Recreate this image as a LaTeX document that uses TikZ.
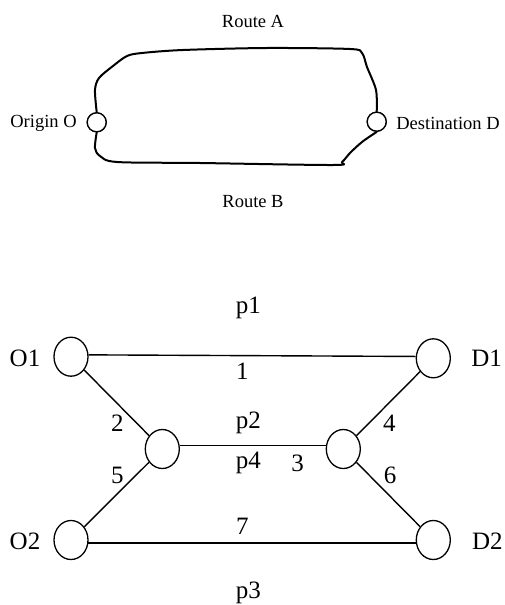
\documentclass[tikz,border=0pt]{standalone}
\usepackage{fontspec}
\setmainfont{Liberation Serif}
\usetikzlibrary{shapes.geometric}
\begin{document}
\begin{tikzpicture}[x=1pt,y=-1pt,
  smalltxt/.style={font=\fontsize{18.5}{22}\selectfont, inner sep=0pt},
  bigtxt/.style={font=\fontsize{25}{30}\selectfont, inner sep=0pt},
  port/.style={circle, draw, line width=1.3pt, fill=white, minimum size=19pt, inner sep=0pt},
  junction/.style={ellipse, draw, line width=1.3pt, fill=white, minimum width=34pt, minimum height=39pt, inner sep=0pt},
  road/.style={line width=2pt, line join=round, line cap=round},
  link/.style={line width=1.4pt}]
\useasboundingbox (0,0) rectangle (505,605);

% ---- two-route network ----
\node[port] (O) at (96.7,122.3) {};
\node[port] (D) at (376.7,121.7) {};
\draw[road] plot[smooth, tension=0.5] coordinates {(O.north) (95,90) (99,78) (113,66) (127,56) (142,53) (183,50) (267,48) (350,49) (362,53) (367,67) (376,90) (D.north)};
\draw[road] plot[smooth, tension=0.5] coordinates {(O.south) (95,148) (100,156) (117,162) (200,163) (333,165) (342,162) (350,153) (362,142) (D.south)};
\node[port] at (O) {};
\node[port] at (D) {};
\node[smalltxt] (rA) at (253,21) {Route A};
\node[smalltxt] (rB) at (253,202) {Route B};
\node[smalltxt] (lO) at (43.5,123) {Origin O};
\node[smalltxt] (lD) at (448,123) {Destination D};

% ---- seven-link network ----
\node[junction] (O1) at (71,356.7) {};
\node[junction] (D1) at (433.3,358.3) {};
\node[junction] (M1) at (162.3,449) {};
\node[junction] (M2) at (343.3,449) {};
\node[junction] (O2) at (71,540) {};
\node[junction] (D2) at (433.3,540) {};

\draw[link] (O1.6) -- (D1.174);
\draw[link] (O1) -- (M1);
\draw[link] (D1) -- (M2);
\draw[link] (M1.12) -- (M2.168);
\draw[link] (M1) -- (O2);
\draw[link] (M2) -- (D2);
\draw[link] (O2.-10) -- (D2.-170);

\node[bigtxt] (tO1) at (25,358) {O1};
\node[bigtxt] (tD1) at (486.7,358) {D1};
\node[bigtxt] (tO2) at (25,541) {O2};
\node[bigtxt] (tD2) at (487.3,541) {D2};
\node[bigtxt] (p1) at (248.3,308.3) {p1};
\node[bigtxt] (n1) at (242.3,371.7) {1};
\node[bigtxt] (n2) at (117.3,423.3) {2};
\node[bigtxt] (p2) at (248.3,423.3) {p2};
\node[bigtxt] (n4) at (389.3,423.3) {4};
\node[bigtxt] (p4) at (248.3,463.3) {p4};
\node[bigtxt] (n3) at (297.7,463.3) {3};
\node[bigtxt] (n5) at (117.3,475) {5};
\node[bigtxt] (n6) at (390,475) {6};
\node[bigtxt] (n7) at (242.3,526.7) {7};
\node[bigtxt] (p3) at (248.3,593.3) {p3};
\end{tikzpicture}
\end{document}
